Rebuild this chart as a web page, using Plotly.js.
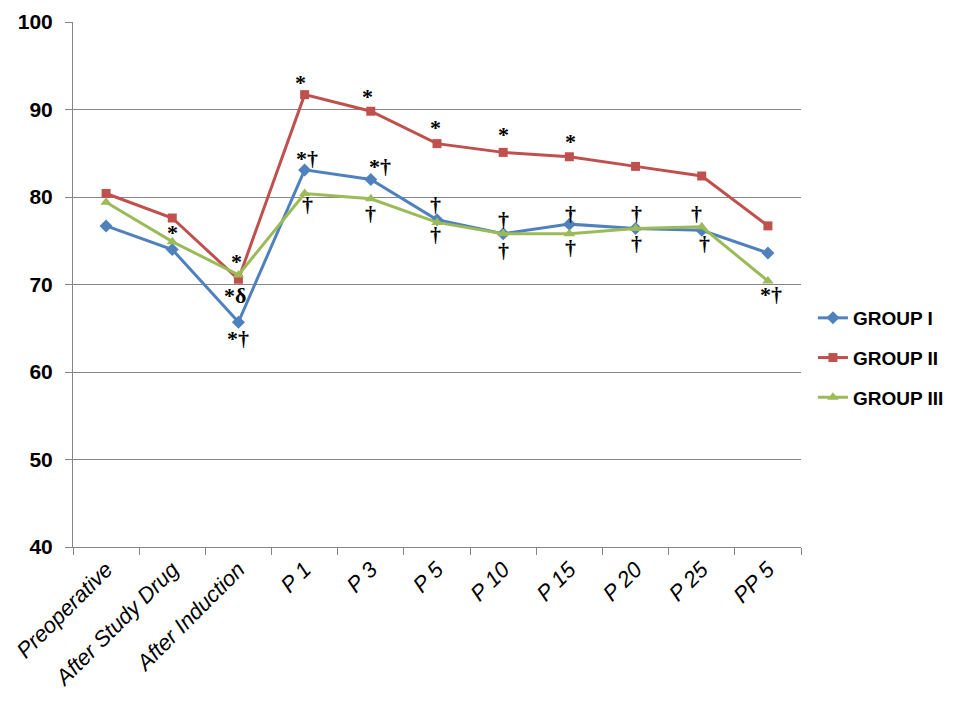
<!DOCTYPE html>
<html>
<head>
<meta charset="utf-8">
<script src="https://cdn.plot.ly/plotly-3.0.1.min.js"></script>
<style>html,body{margin:0;padding:0;background:#fff;}#chart{width:960px;height:720px;}</style>
</head>
<body>
<div id="chart"></div>
<script>
const categories = ["Preoperative","After Study Drug","After Induction","P 1","P 3","P 5","P 10","P 15","P 20","P 25","PP 5"];
const groupI   = [76.7, 74.0, 65.7, 83.1, 82.0, 77.4, 75.8, 76.9, 76.4, 76.2, 73.6];
const groupII  = [80.4, 77.6, 70.6, 91.7, 89.8, 86.1, 85.1, 84.6, 83.5, 82.4, 76.7];
const groupIII = [79.4, 74.9, 71.1, 80.4, 79.8, 77.1, 75.8, 75.8, 76.4, 76.6, 70.4];

// significance marks: category, y value, text, x pixel shift
const markCats  = ["After Study Drug","After Induction","After Induction","After Induction",
  "P 1","P 1","P 1","P 3","P 3","P 3","P 5","P 5","P 5","P 10","P 10","P 10",
  "P 15","P 15","P 15","P 20","P 20","P 25","P 25","PP 5"];
const markY     = [76.0, 72.6, 68.8, 63.8,
  93.1, 84.4, 79.1, 91.5, 83.5, 78.1, 88.0, 79.1, 75.7, 87.1, 77.4, 73.9,
  86.3, 78.1, 74.2, 78.1, 74.7, 78.1, 74.7, 68.9];
const markText  = ["*","*","*δ","*†",
  "*","*†","†","*","*†","†","*","†","†","*","†","†",
  "*","†","†","†","†","†","†","*†"];
const markShift = [0, -2, -3, 0,
  -4, 2, 3, -3, 9, 0, -2, -2, -2, 0, 0, 0,
  1, 1, 1, 1, 1, -5, 3, 3];

const gray = "#868686";

const traces = [
  {name:"GROUP I", x:categories, y:groupI, type:"scatter", mode:"lines+markers", legendgroup:"g1",
   line:{color:"#4F81BD", width:3}, marker:{symbol:"diamond", size:10, color:"#4F81BD"}},
  {name:"GROUP II", x:categories, y:groupII, type:"scatter", mode:"lines+markers", legendgroup:"g2",
   line:{color:"#C0504D", width:3}, marker:{symbol:"square", size:9, color:"#C0504D"}},
  {name:"GROUP III", x:categories, y:groupIII, type:"scatter", mode:"lines+markers", legendgroup:"g3",
   line:{color:"#9BBB59", width:3}, marker:{symbol:"triangle-up", size:10, color:"#9BBB59"}}
];

const annotations = markCats.map((c,i)=>({
  x:c, y:markY[i], xref:"x", yref:"y", text:markText[i], showarrow:false,
  xshift:markShift[i],
  font:{family:"Liberation Serif", size:22, color:"#000", weight:"bold"}
}));

const layout = {
  width:960, height:720,
  margin:{l:73, r:158, t:22, b:173},
  paper_bgcolor:"#fff", plot_bgcolor:"#fff",
  showlegend:true,
  legend:{x:1.015, xanchor:"left", y:0.36, yanchor:"middle", tracegroupgap:12,
    font:{family:"Liberation Sans", size:19, color:"#000", weight:"bold"}, itemwidth:30},
  xaxis:{type:"category", range:[-0.5,10.5], showline:true, linecolor:gray, linewidth:1,
    ticks:"outside", tickson:"boundaries", ticklen:7, tickcolor:gray, showgrid:false,
    tickangle:-45, tickfont:{family:"Liberation Sans", size:22, color:"#000", style:"italic"}},
  yaxis:{range:[40,100], dtick:10, showline:true, linecolor:gray, linewidth:1,
    ticks:"outside", ticklen:7, tickcolor:gray, showgrid:true, gridcolor:gray, gridwidth:1,
    zeroline:false, ticklabelstandoff:8,
    tickfont:{family:"Liberation Sans", size:21, color:"#000", weight:"bold"}},
  annotations:annotations
};

Plotly.newPlot("chart", traces, layout, {displayModeBar:false, staticPlot:true});
</script>
</body>
</html>
